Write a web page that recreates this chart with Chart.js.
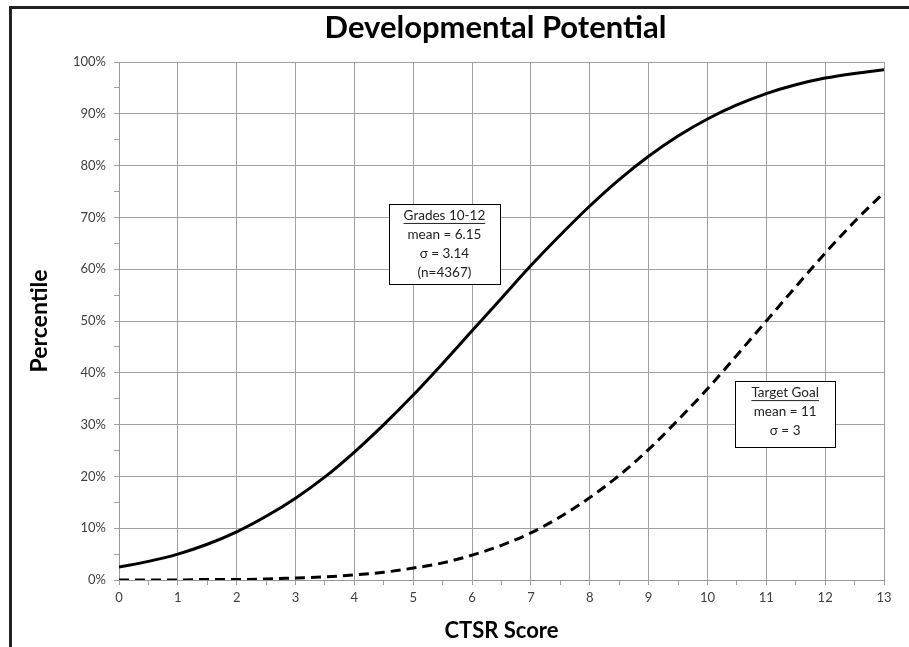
<!DOCTYPE html>
<html>
<head>
<meta charset="utf-8">
<script src="https://cdn.jsdelivr.net/npm/chart.js@4"></script>
<style>
  body { margin: 0; background: #fff; overflow: hidden; }
  #wrap { position: relative; width: 909px; height: 647px; }
  #frame {
    position: absolute; left: 9px; top: 6px; width: 940px; height: 700px;
    border: 3px solid #222; pointer-events: none;
  }
</style>
</head>
<body>
<div id="wrap">
  <canvas id="chart" width="909" height="647"></canvas>
  <div id="frame"></div>
</div>
<script>
// CTSR score (x) and percentile values
const scores = [0, 0.5, 1, 1.5, 2, 2.5, 3, 3.5, 4, 4.5, 5, 5.5, 6, 6.5, 7,
  7.5, 8, 8.5, 9, 9.5, 10, 10.5, 11, 11.5, 12, 12.5, 13];
const grades1012 = [2.5, 3.6, 5.0, 6.9, 9.3, 12.3, 15.8, 19.9, 24.7, 30.0, 35.7, 41.8, 48.1, 54.4, 60.7,
  66.6, 72.2, 77.3, 81.8, 85.7, 89.0, 91.7, 93.9, 95.6, 96.9, 97.8, 98.5];
const targetGoal = [0.0, 0.0, 0.0, 0.1, 0.1, 0.2, 0.4, 0.6, 1.0, 1.5, 2.3, 3.3, 4.8, 6.7, 9.1,
  12.2, 15.9, 20.2, 25.2, 30.9, 36.9, 43.4, 50.0, 56.6, 63.1, 69.2, 74.8];

const chartTitle = 'Developmental Potential';
const xTitle = 'CTSR Score';
const yTitle = 'Percentile';

// text boxes, anchored by data position (center x, top y in %)
const notes = [
  { x: 5.53, y: 72.6, w: 111, h: 80, lines: ['Grades 10-12', 'mean = 6.15', 'σ = 3.14', '(n=4367)'] },
  { x: 11.32, y: 38.4, w: 100, h: 66, lines: ['Target Goal', 'mean = 11', 'σ = 3'] }
];

const FONT = 'Lato, "Open Sans", sans-serif';
const isWhole = v => Math.abs(v - Math.round(v)) < 1e-6;

const toPoints = ys => scores.map((x, i) => ({ x: x, y: ys[i] }));

const extrasPlugin = {
  id: 'extras',
  afterDraw(chart) {
    const ctx = chart.ctx;
    const area = chart.chartArea;
    const xs = chart.scales.x, ys = chart.scales.y;
    ctx.save();
    // title
    ctx.fillStyle = '#000';
    ctx.font = 'bold 31px ' + FONT;
    ctx.textAlign = 'center';
    ctx.textBaseline = 'middle';
    ctx.fillText(chartTitle, (area.left + area.right) / 2 - 6, 28);

    // note boxes
    notes.forEach(n => {
      const cx = xs.getPixelForValue(n.x);
      const top = ys.getPixelForValue(n.y);
      const left = Math.round(cx - n.w / 2) + 0.5;
      ctx.fillStyle = '#fff';
      ctx.fillRect(left, Math.round(top) + 0.5, n.w, n.h);
      ctx.strokeStyle = '#000';
      ctx.lineWidth = 1;
      ctx.strokeRect(left, Math.round(top) + 0.5, n.w, n.h);
      ctx.font = '13.5px ' + FONT;
      ctx.fillStyle = '#222';
      n.lines.forEach((line, i) => {
        const ty = top + 12 + i * 19;
        ctx.fillText(line, cx, ty);
        if (i === 0) {
          const tw = ctx.measureText(line).width;
          ctx.fillRect(cx - tw / 2, ty + 7, tw, 1);
        }
      });
    });
    ctx.restore();
  }
};

new Chart(document.getElementById('chart').getContext('2d'), {
  type: 'line',
  data: {
    datasets: [
      {
        label: 'Grades 10-12',
        data: toPoints(grades1012),
        borderColor: '#000',
        borderWidth: 3,
        pointRadius: 0,
        cubicInterpolationMode: 'monotone',
        fill: false
      },
      {
        label: 'Target Goal',
        data: toPoints(targetGoal),
        borderColor: '#000',
        borderWidth: 3,
        borderDash: [10, 6],
        pointRadius: 0,
        cubicInterpolationMode: 'monotone',
        fill: false
      }
    ]
  },
  options: {
    responsive: false,
    animation: false,
    layout: { padding: { left: 10, right: 25, top: 62, bottom: 0 } },
    plugins: {
      legend: { display: false },
      tooltip: { enabled: false }
    },
    scales: {
      x: {
        type: 'linear',
        min: 0,
        max: 13,
        afterFit: s => { s.height = 67; },
        border: { color: '#999', width: 1 },
        grid: {
          color: c => isWhole(c.tick.value) ? '#a0a0a0' : 'rgba(0,0,0,0)',
          tickColor: '#a0a0a0',
          tickLength: 5,
          lineWidth: 1
        },
        ticks: {
          stepSize: 0.5,
          autoSkip: false,
          maxRotation: 0,
          padding: 5,
          color: '#404040',
          font: { family: FONT, size: 13 },
          callback: v => isWhole(v) ? String(Math.round(v)) : ''
        },
        title: {
          display: true,
          text: xTitle,
          color: '#000',
          font: { family: FONT, size: 22, weight: 'bold' },
          padding: { top: 0, bottom: 3 }
        }
      },
      y: {
        min: 0,
        max: 100,
        afterFit: s => { s.width = 109; },
        border: { color: '#999', width: 1 },
        grid: {
          color: c => c.tick.value % 10 === 0 ? '#a0a0a0' : 'rgba(0,0,0,0)',
          tickColor: '#a0a0a0',
          tickLength: 5,
          lineWidth: 1
        },
        ticks: {
          stepSize: 5,
          autoSkip: false,
          padding: 8,
          color: '#404040',
          font: { family: FONT, size: 13 },
          callback: v => v % 10 === 0 ? v + '%' : ''
        },
        title: {
          display: true,
          text: yTitle,
          color: '#000',
          font: { family: FONT, size: 23, weight: 'bold' },
          padding: { top: 16, bottom: 0 }
        }
      }
    }
  },
  plugins: [extrasPlugin]
});
</script>
</body>
</html>
